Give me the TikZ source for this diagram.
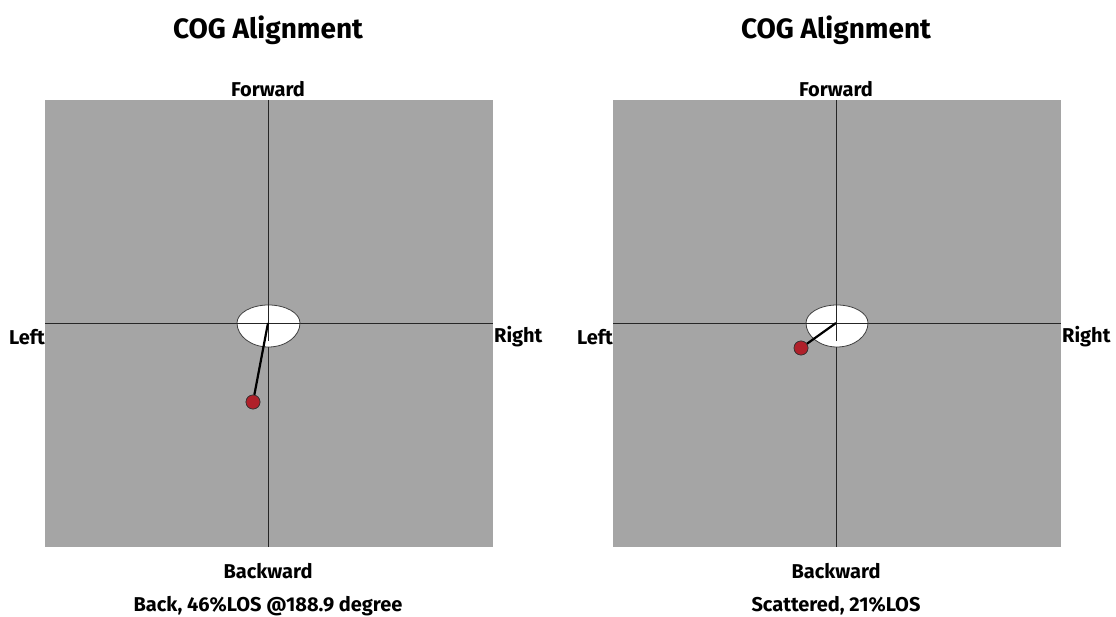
\documentclass[tikz,border=0pt]{standalone}
\usepackage{fontspec}
\setmainfont{Fira Sans}
\definecolor{panel}{HTML}{A5A5A5}
\definecolor{dotred}{HTML}{B0202A}
\begin{document}
\begin{tikzpicture}[x=1pt,y=-1pt,
  panelbox/.style={fill=panel,draw=none},
  axis/.style={draw=black!85,line width=0.8pt},
  lbl/.style={font=\bfseries\fontsize{20}{20}\selectfont,inner sep=0pt},
  ttl/.style={font=\bfseries\fontsize{28}{28}\selectfont,inner sep=0pt},
  rod/.style={line width=2.2pt,black},
  cogdot/.style={circle,fill=dotred,draw=black!80,line width=0.6pt,minimum size=14pt,inner sep=0pt},
  ovalshape/.style={fill=white,draw=black!75,line width=0.8pt}]
\useasboundingbox (0,0) rectangle (1116,617);
\foreach \cx/\nm in {268/L,836/R}{
  \fill[panel] (\cx-223,100) rectangle (\cx+225,547);
  \coordinate (top\nm) at (\cx,100);
  \coordinate (bot\nm) at (\cx,547);
  \coordinate (lft\nm) at (\cx-223,323);
  \coordinate (rgt\nm) at (\cx+225,323);
  \coordinate (c\nm) at (\cx,323);
  \draw[axis] (top\nm) -- (bot\nm);
  \draw[axis] (lft\nm) -- (rgt\nm);
  \node[ttl] (title\nm) at (\cx,30) {COG Alignment};
  \node[lbl] (fwd\nm) at (\cx,89) {Forward};
  \node[lbl] (bwd\nm) at (\cx,571) {Backward};
  \node[lbl,anchor=east] (left\nm) at (\cx-223,337) {Left};
  \node[lbl,anchor=west] (right\nm) at (\cx+226,337) {Right};
}
% ovals
\path[ovalshape] (237,323) arc[start angle=180,end angle=0,x radius=31.5,y radius=24] arc[start angle=0,end angle=-180,x radius=31.5,y radius=18] -- cycle;
\path[ovalshape] (806,323) arc[start angle=180,end angle=0,x radius=31,y radius=24] arc[start angle=0,end angle=-180,x radius=31,y radius=18] -- cycle;
\draw[axis] (237,323) -- (300,323);
\draw[axis] (806,323) -- (868,323);
\draw[axis] (268,299) -- (268,341);
\draw[axis] (836,299) -- (836,341);
% dots
\node[cogdot] (dotL) at (253,402) {};
\node[cogdot] (dotR) at (801,348) {};
\draw[rod] (cL) -- (dotL);
\draw[rod] (cR) -- (dotR);
\node[cogdot] at (253,402) {};
\node[cogdot] at (801,348) {};
\node[lbl] (statL) at (268,606) {Back, 46\%LOS @188.9 degree};
\node[lbl] (statR) at (836,606) {Scattered, 21\%LOS};
\end{tikzpicture}
\end{document}
